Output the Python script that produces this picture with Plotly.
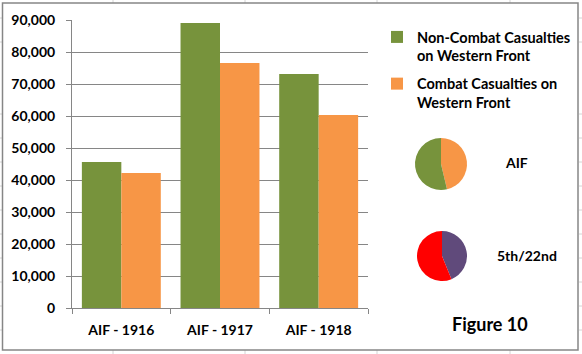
import plotly.graph_objects as go

W, H = 582, 354

categories = ["AIF - 1916", "AIF - 1917", "AIF - 1918"]
series_names = ["Non-Combat Casualties<br>on Western Front", "Combat Casualties on<br>Western Front"]
non_combat = [45600, 89100, 73100]
combat = [42200, 76600, 60300]
y_ticks = [0, 10000, 20000, 30000, 40000, 50000, 60000, 70000, 80000, 90000]
y_tick_labels = ["0", "10,000", "20,000", "30,000", "40,000", "50,000", "60,000", "70,000", "80,000", "90,000"]
# 5th/22nd battalion share (estimated, %): combat, non-combat
bn_labels = ["Combat", "Non-Combat"]
bn_values = [43.8, 56.2]

GREEN = "#77933C"
ORANGE = "#F79646"
PURPLE = "#604A7B"
RED = "#FF0000"
GRID = "#868686"
FONT = "Lato"

def px(x):
    return x / W

def py(y):
    return 1 - y / H

def bold(size):
    return dict(family=FONT, size=size, color="black", weight="bold")

fig = go.Figure()
fig.add_trace(go.Bar(x=categories, y=non_combat, name=series_names[0], legendgroup="g1",
                     marker=dict(color=GREEN, line=dict(width=0))))
fig.add_trace(go.Bar(x=categories, y=combat, name=series_names[1], legendgroup="g2",
                     marker=dict(color=ORANGE, line=dict(width=0))))

fig.add_trace(go.Pie(values=[sum(combat), sum(non_combat)], labels=["Combat", "Non-Combat"],
                     marker=dict(colors=[ORANGE, GREEN], line=dict(width=0)),
                     direction="clockwise", sort=False, rotation=0,
                     textinfo="none", showlegend=False,
                     domain=dict(x=[px(415), px(467)], y=[py(190), py(138)])))
fig.add_trace(go.Pie(values=bn_values, labels=bn_labels,
                     marker=dict(colors=[PURPLE, RED], line=dict(width=0)),
                     direction="clockwise", sort=False, rotation=0,
                     textinfo="none", showlegend=False,
                     domain=dict(x=[px(417), px(467)], y=[py(281), py(231)])))

shapes = []
# spreadsheet cell gridlines visible outside the chart
for x in [113, 245, 377, 510]:
    shapes.append(dict(type="line", xref="paper", yref="paper", x0=px(x), x1=px(x), y0=py(0), y1=py(3),
                       line=dict(color="#D4D4D4", width=1), layer="below"))
    shapes.append(dict(type="line", xref="paper", yref="paper", x0=px(x), x1=px(x), y0=py(350), y1=py(354),
                       line=dict(color="#D4D4D4", width=1), layer="below"))
for y in [18, 42, 114, 138, 162, 186, 210, 234, 258, 282, 306, 330]:
    shapes.append(dict(type="line", xref="paper", yref="paper", x0=0, x1=px(2), y0=py(y), y1=py(y),
                       line=dict(color="#D4D4D4", width=1), layer="below"))
    shapes.append(dict(type="line", xref="paper", yref="paper", x0=px(579), x1=1, y0=py(y), y1=py(y),
                       line=dict(color="#D4D4D4", width=1), layer="below"))
# chart border
shapes.append(dict(type="rect", xref="paper", yref="paper", x0=px(2.5), x1=px(578), y0=py(350), y1=py(3),
                   line=dict(color=GRID, width=1.5), fillcolor="rgba(0,0,0,0)"))

annotations = [
    dict(text="AIF", x=px(516), y=py(162), xref="paper", yref="paper", showarrow=False,
         font=bold(14), xanchor="center", yanchor="middle"),
    dict(text="5th/22nd", x=px(527), y=py(255), xref="paper", yref="paper", showarrow=False,
         font=bold(14), xanchor="center", yanchor="middle"),
    dict(text="Figure 10", x=px(490), y=py(324), xref="paper", yref="paper", showarrow=False,
         font=bold(18), xanchor="center", yanchor="middle"),
]

fig.update_layout(
    width=W, height=H,
    margin=dict(l=0, r=0, t=0, b=0, autoexpand=False),
    paper_bgcolor="white", plot_bgcolor="white",
    barmode="group", bargap=0.2, bargroupgap=0,
    font=dict(family=FONT, size=14, color="black"),
    shapes=shapes, annotations=annotations,
    legend=dict(x=px(377), y=py(21), xanchor="left", yanchor="top", valign="top",
                tracegroupgap=6,
                font=bold(14.5), bgcolor="rgba(0,0,0,0)"),
    xaxis=dict(domain=[px(72), px(368)], type="category", tickson="boundaries", automargin=False,
               ticks="outside", ticklen=5, tickcolor=GRID, showline=True, linecolor=GRID, linewidth=1,
               showgrid=False, tickfont=bold(14), ticklabelstandoff=9, fixedrange=True),
    yaxis=dict(domain=[1 - 308 / H, 1 - 20 / H], range=[0, 90000], tickvals=y_ticks, ticktext=y_tick_labels,
               automargin=False,
               ticks="outside", ticklen=5, tickcolor=GRID, showline=True, linecolor=GRID, linewidth=1,
               showgrid=True, gridcolor=GRID, gridwidth=1, zeroline=False,
               tickfont=bold(14), ticklabelstandoff=8, fixedrange=True),
)

fig.write_html("out.html")
